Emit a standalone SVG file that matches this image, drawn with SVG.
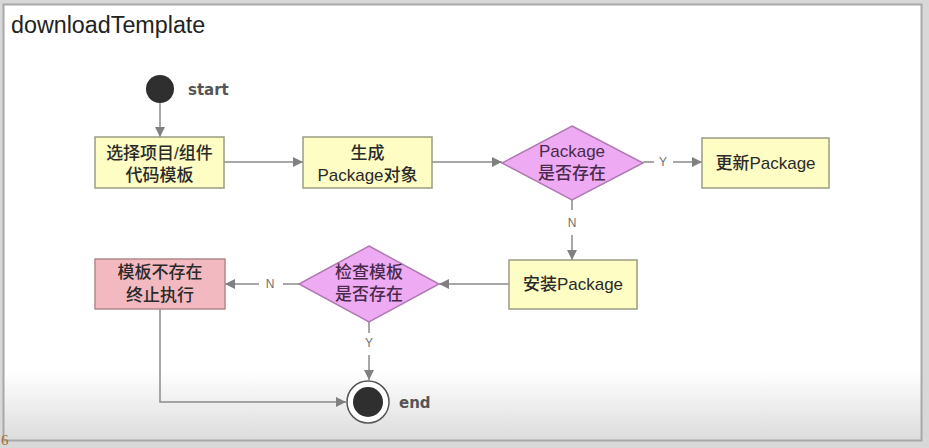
<svg xmlns="http://www.w3.org/2000/svg" width="929" height="448" viewBox="0 0 929 448">
<defs>
<linearGradient id="bg" x1="0" y1="0" x2="0" y2="1">
<stop offset="0" stop-color="#ffffff"/>
<stop offset="0.84" stop-color="#ffffff"/>
<stop offset="1" stop-color="#dcdcdc"/>
</linearGradient>
<marker id="arr" viewBox="0 0 10 10" refX="10" refY="5" markerWidth="10" markerHeight="10" markerUnits="userSpaceOnUse" orient="auto">
<path d="M0,0 L10,5 L0,10 z" fill="#808080"/>
</marker>
<style>
.frame{fill:url(#bg);stroke:#a8a8a8;stroke-width:2}
.box{fill:#fdfdc4;stroke:#9c9c84;stroke-width:1.5}
.stop{fill:#f3b9c1;stroke:#b08a8a;stroke-width:1.5}
.dia{fill:#eeaaf2;stroke:#b07ab4;stroke-width:1.5}
.t{font-family:"Liberation Sans","Noto Sans CJK SC",sans-serif;font-size:17px;fill:#2a2a2a;text-anchor:middle;font-weight:500}
.dt{font-family:"Liberation Sans","Noto Sans CJK SC",sans-serif;font-size:17px;fill:#4a2a4c;text-anchor:middle;font-weight:500}
.lbl{font-family:"Liberation Sans",sans-serif;font-size:12px;fill:#707070;text-anchor:middle}
.se{font-family:"DejaVu Sans",sans-serif;font-size:15px;font-weight:bold;fill:#555}
.ln{fill:none;stroke:#8a8a8a;stroke-width:1.5}
</style>
</defs>
<rect x="0" y="0" width="929" height="448" fill="#d8d8d8"/>
<rect class="frame" x="3.5" y="4.5" width="918" height="436"/>
<text x="11" y="33" font-family="Liberation Sans, sans-serif" font-size="23.3" fill="#222">downloadTemplate</text>
<text x="1" y="445" font-family="Liberation Serif, serif" font-size="15" fill="#a07030">6</text>

<g id="connectors">
<path class="ln" d="M160,103 V137" marker-end="url(#arr)"/>
<path class="ln" d="M224,162 H303" marker-end="url(#arr)"/>
<path class="ln" d="M432,162 H502" marker-end="url(#arr)"/>
<path class="ln" d="M643,162 H654"/>
<text class="lbl" x="663" y="166">Y</text>
<path class="ln" d="M673,162 H702" marker-end="url(#arr)"/>
<path class="ln" d="M572,200 V210"/>
<text class="lbl" x="572" y="227">N</text>
<path class="ln" d="M572,235 V260" marker-end="url(#arr)"/>
<path class="ln" d="M509,284 H439" marker-end="url(#arr)"/>
<path class="ln" d="M299,284 H283"/>
<text class="lbl" x="270" y="288">N</text>
<path class="ln" d="M259,284 H225" marker-end="url(#arr)"/>
<path class="ln" d="M369,321 V333"/>
<text class="lbl" x="369" y="347">Y</text>
<path class="ln" d="M369,355 V380" marker-end="url(#arr)"/>
<path class="ln" d="M160,309 V402 H346" marker-end="url(#arr)"/>
</g>

<g id="start">
<circle cx="160" cy="89" r="14" fill="#2f2f2f"/>
<text class="se" x="188" y="95">start</text>
</g>
<g id="selectTemplate">
<rect class="box" x="95" y="137" width="129" height="51"/>
<text class="t" x="159.5" y="159">选择项目/组件</text>
<text class="t" x="159.5" y="181">代码模板</text>
</g>
<g id="createPackage">
<rect class="box" x="303" y="137" width="129" height="51"/>
<text class="t" x="367.5" y="159">生成</text>
<text class="t" x="367.5" y="181">Package对象</text>
</g>
<g id="packageExists">
<polygon class="dia" points="572,126 643,163 572,200 502,163"/>
<text class="dt" x="572" y="157">Package</text>
<text class="dt" x="572" y="179">是否存在</text>
</g>
<g id="updatePackage">
<rect class="box" x="702" y="138" width="127" height="50"/>
<text class="t" x="765.5" y="169">更新Package</text>
</g>
<g id="installPackage">
<rect class="box" x="509" y="260" width="128" height="49"/>
<text class="t" x="573" y="290">安装Package</text>
</g>
<g id="templateExists">
<polygon class="dia" points="369,246 439,284 369,322 299,284"/>
<text class="dt" x="369" y="278">检查模板</text>
<text class="dt" x="369" y="300">是否存在</text>
</g>
<g id="templateMissing">
<rect class="stop" x="95" y="259" width="130" height="50"/>
<text class="t" x="160" y="278">模板不存在</text>
<text class="t" x="160" y="301">终止执行</text>
</g>
<g id="end">
<circle cx="368" cy="402" r="21" fill="#fff" stroke="#555" stroke-width="1.5"/>
<circle cx="368" cy="402" r="15" fill="#2f2f2f"/>
<text class="se" x="399" y="408">end</text>
</g>
</svg>
